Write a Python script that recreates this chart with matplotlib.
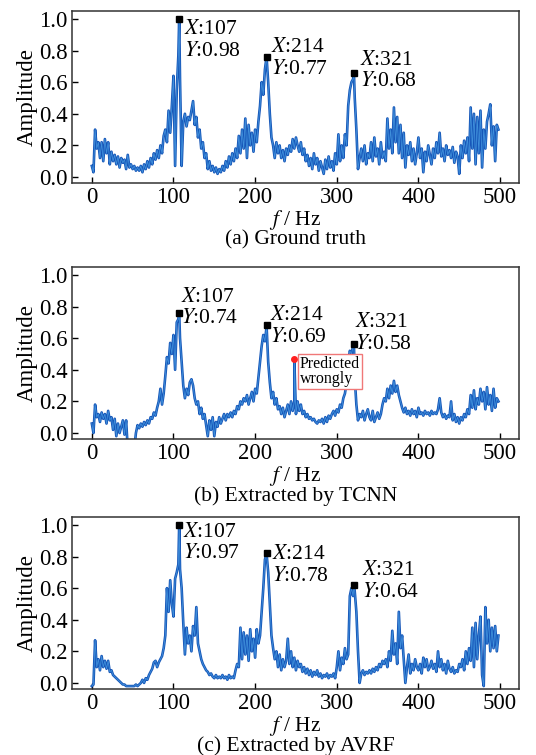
import matplotlib
matplotlib.use("Agg")
import matplotlib.pyplot as plt
import numpy as np

plt.rcParams["font.family"] = ["Liberation Serif", "DejaVu Serif"]
plt.rcParams["mathtext.fontset"] = "stix"
plt.rcParams["font.size"] = 16

# frekuensi tiap 2 Hz, puncak ditambahkan terpisah
freq = np.arange(0, 500, 2)

amp_a = [
    0.07, 0.03, 0.30, 0.18, 0.22, 0.12, 0.22, 0.10, 0.24, 0.15,
    0.22, 0.08, 0.16, 0.10, 0.14, 0.08, 0.13, 0.06, 0.12, 0.09,
    0.11, 0.05, 0.14, 0.06, 0.08, 0.05, 0.07, 0.04, 0.06, 0.04,
    0.07, 0.03, 0.08, 0.05, 0.10, 0.06, 0.12, 0.08, 0.15, 0.11,
    0.17, 0.12, 0.20, 0.15, 0.26, 0.30, 0.22, 0.42, 0.28, 0.45,
    0.64, 0.07, 0.55, 0.77, 0.62, 0.07, 0.35, 0.40, 0.32, 0.38,
    0.36, 0.42, 0.48, 0.33, 0.38, 0.25, 0.30, 0.18, 0.22, 0.12,
    0.15, 0.05, 0.10, 0.04, 0.07, 0.03, 0.06, 0.02, 0.05, 0.03,
    0.07, 0.04, 0.10, 0.06, 0.13, 0.08, 0.15, 0.10, 0.18, 0.12,
    0.26, 0.15, 0.30, 0.18, 0.37, 0.12, 0.33, 0.20, 0.28, 0.16,
    0.30, 0.22, 0.35, 0.45, 0.60, 0.52, 0.68, 0.76, 0.60, 0.40,
    0.25, 0.20, 0.12, 0.22, 0.15, 0.20, 0.12, 0.17, 0.10, 0.18,
    0.14, 0.20, 0.16, 0.24, 0.18, 0.25, 0.20, 0.16, 0.22, 0.14,
    0.18, 0.10, 0.14, 0.07, 0.12, 0.05, 0.15, 0.08, 0.12, 0.04,
    0.10, 0.06, 0.02, 0.11, 0.05, 0.13, 0.06, 0.10, 0.04, 0.15,
    0.08, 0.27, 0.10, 0.20, 0.12, 0.27, 0.20, 0.45, 0.55, 0.60,
    0.62, 0.50, 0.30, 0.05, 0.12, 0.18, 0.10, 0.20, 0.08, 0.15,
    0.12, 0.22, 0.10, 0.25, 0.13, 0.18, 0.08, 0.22, 0.12, 0.16,
    0.10, 0.37, 0.18, 0.30, 0.15, 0.44, 0.22, 0.38, 0.15, 0.33,
    0.12, 0.28, 0.06, 0.20, 0.14, 0.22, 0.10, 0.18, 0.08, 0.15,
    0.25, 0.12, 0.18, 0.03, 0.16, 0.10, 0.20, 0.14, 0.08, 0.18,
    0.12, 0.22, 0.15, 0.28, 0.13, 0.18, 0.10, 0.20, 0.14, 0.17,
    0.12, 0.19, 0.09, 0.16, 0.13, 0.02, 0.20, 0.12, 0.23, 0.15,
    0.25, 0.10, 0.44, 0.18, 0.40, 0.08, 0.38, 0.15, 0.42, 0.06,
    0.30, 0.18, 0.35, 0.40, 0.46, 0.20, 0.32, 0.10, 0.33, 0.30,
]

amp_b = [
    0.06, 0.00, 0.18, 0.10, 0.12, 0.07, 0.13, 0.09, 0.12, 0.06,
    0.14, 0.08, 0.10, 0.02, 0.09, -0.02, 0.06, 0.00, 0.04, 0.08,
    -0.01, 0.08, -0.10, -0.10, -0.10, -0.10, -0.10, 0.00, 0.05, 0.03,
    0.06, 0.04, 0.07, 0.05, 0.08, 0.06, 0.10, 0.09, 0.13, 0.11,
    0.16, 0.20, 0.28, 0.18, 0.25, 0.36, 0.48, 0.44, 0.57, 0.50,
    0.62, 0.40, 0.70, 0.72, 0.60, 0.45, 0.30, 0.22, 0.28, 0.24,
    0.32, 0.34, 0.30, 0.22, 0.18, 0.20, 0.12, 0.16, 0.09, 0.12,
    0.05, -0.02, 0.08, 0.02, 0.10, -0.02, 0.07, 0.04, 0.10, 0.06,
    0.09, 0.12, 0.08, 0.12, 0.10, 0.13, 0.10, 0.14, 0.12, 0.17,
    0.15, 0.20, 0.18, 0.22, 0.20, 0.24, 0.18, 0.22, 0.26, 0.20,
    0.28, 0.25, 0.35, 0.45, 0.55, 0.62, 0.58, 0.67, 0.45, 0.32,
    0.22, 0.26, 0.18, 0.22, 0.15, 0.17, 0.12, 0.16, 0.10, 0.14,
    0.18, 0.12, 0.20, 0.14, 0.20, 0.12, 0.20, 0.14, 0.18, 0.12,
    0.14, 0.10, 0.12, 0.09, 0.10, 0.08, 0.09, 0.07, 0.06, 0.08,
    0.07, 0.09, 0.06, 0.10, 0.07, 0.11, 0.09, 0.12, 0.14, 0.11,
    0.15, 0.13, 0.18, 0.16, 0.22, 0.25, 0.32, 0.45, 0.52, 0.50,
    0.55, 0.35, 0.18, 0.08, 0.12, 0.10, 0.14, 0.08, 0.12, 0.15,
    0.10, 0.08, 0.14, 0.07, 0.10, 0.13, 0.09, 0.12, 0.18, 0.22,
    0.20, 0.28, 0.22, 0.30, 0.25, 0.33, 0.26, 0.30, 0.24, 0.20,
    0.16, 0.13, 0.16, 0.12, 0.14, 0.11, 0.15, 0.12, 0.14, 0.10,
    0.16, 0.12, 0.13, 0.11, 0.14, 0.12, 0.13, 0.11, 0.14, 0.12,
    0.13, 0.12, 0.15, 0.22, 0.13, 0.10, 0.12, 0.09, 0.11, 0.10,
    0.20, 0.08, 0.12, 0.07, 0.10, 0.06, 0.10, 0.08, 0.12, 0.10,
    0.15, 0.12, 0.24, 0.16, 0.27, 0.15, 0.22, 0.18, 0.28, 0.20,
    0.26, 0.15, 0.29, 0.18, 0.24, 0.14, 0.28, 0.16, 0.22, 0.20,
]

amp_c = [
    -0.02, -0.01, 0.27, 0.10, 0.15, 0.08, 0.17, 0.10, 0.14, 0.09,
    0.14, 0.07, 0.08, 0.05, 0.04, 0.03, 0.02, 0.01, 0.00, -0.01,
    -0.01, -0.02, -0.02, -0.02, -0.02, -0.02, -0.02, -0.01, -0.02, -0.01,
    0.00, 0.02, 0.00, 0.03, 0.02, 0.05, 0.07, 0.09, 0.13, 0.14,
    0.10, 0.13, 0.15, 0.17, 0.22, 0.30, 0.60, 0.45, 0.65, 0.50,
    0.42, 0.66, 0.70, 0.75, 0.72, 0.60, 0.38, 0.18, 0.35, 0.25,
    0.30, 0.20, 0.36, 0.30, 0.48, 0.25, 0.20, 0.15, 0.12, 0.10,
    0.08, 0.07, 0.05, 0.06, 0.04, 0.03, 0.05, 0.03, 0.04, 0.03,
    0.05, 0.03, 0.04, 0.02, 0.05, 0.03, 0.04, 0.03, 0.08, 0.12,
    0.10, 0.35, 0.15, 0.32, 0.18, 0.30, 0.14, 0.34, 0.20, 0.28,
    0.16, 0.34, 0.25, 0.30, 0.45, 0.60, 0.78, 0.82, 0.70, 0.50,
    0.30, 0.22, 0.15, 0.20, 0.10, 0.18, 0.08, 0.15, 0.10, 0.14,
    0.28, 0.12, 0.20, 0.10, 0.16, 0.08, 0.14, 0.10, 0.12, 0.07,
    0.10, 0.06, 0.09, 0.05, 0.08, 0.04, 0.07, 0.05, 0.08, 0.04,
    0.06, 0.03, 0.05, 0.04, 0.06, 0.03, 0.05, 0.04, 0.06, 0.03,
    0.10, 0.20, 0.08, 0.16, 0.12, 0.22, 0.15, 0.18, 0.55, 0.60,
    0.55, 0.58, 0.45, 0.20, 0.00, 0.06, 0.08, 0.05, 0.07, 0.06,
    0.08, 0.06, 0.09, 0.07, 0.10, 0.08, 0.12, 0.10, 0.14, 0.12,
    0.15, 0.10, 0.20, 0.14, 0.33, 0.18, 0.25, 0.12, 0.45, 0.22,
    0.30, 0.15, 0.00, 0.10, 0.18, 0.06, 0.12, 0.08, 0.15, 0.10,
    0.08, 0.12, 0.06, 0.16, 0.10, 0.15, 0.08, 0.10, 0.14, 0.09,
    0.12, 0.07, 0.20, 0.10, 0.15, 0.08, 0.12, 0.06, 0.14, 0.09,
    0.07, 0.10, 0.06, 0.08, 0.07, 0.12, 0.10, 0.15, 0.08, 0.20,
    0.12, 0.22, 0.14, 0.35, 0.10, 0.38, 0.15, 0.30, 0.42, 0.05,
    -0.02, 0.48, 0.25, 0.40, 0.20, 0.35, 0.22, 0.36, 0.20, 0.30,
]

peak_x = [107, 214, 321]
peak_a = [1.00, 0.76, 0.66]
peak_b = [0.76, 0.68, 0.56]
peak_c = [1.00, 0.82, 0.62]
label_a = ["0.98", "0.77", "0.68"]
label_b = ["0.74", "0.69", "0.58"]
label_c = ["0.97", "0.78", "0.64"]

wrong_x = 248
wrong_y = 0.465

panels = [
    (amp_a, peak_a, label_a, "(a) Ground truth",
     [(113, 0.865), (220, 0.75), (329, 0.67)],
     [0.7576, 0.9854]),
    (amp_b, peak_b, label_b, "(b) Extracted by TCNN",
     [(109, 0.79), (218, 0.675), (322, 0.63)],
     [0.4185, 0.6464]),
    (amp_c, peak_c, label_c, "(c) Extracted by AVRF",
     [(112, 0.885), (221, 0.742), (331, 0.64)],
     [0.0875, 0.3152]),
]

fig = plt.figure(figsize=(5.36, 7.55), dpi=100)

for i, (amp, pk, lab, judul, pos, (y0, y1)) in enumerate(panels):
    ax = fig.add_axes([0.134, y0, 0.968 - 0.134, y1 - y0])
    x = np.concatenate([freq, peak_x])
    y = np.concatenate([amp, pk])
    if i == 1:
        x = np.append(x, wrong_x)
        y = np.append(y, wrong_y)
    urut = np.argsort(x, kind="stable")
    ax.plot(x[urut], y[urut], color="#1656b8", lw=1.9)
    ax.plot(x[urut], y[urut], color="#4a9ee4", lw=0.6, alpha=0.8)
    ax.plot(peak_x, pk, "s", color="black", ms=4)
    for (tx, ty), px, lb in zip(pos, peak_x, lab):
        ax.text(tx, ty, "$X$:%d\n$Y$:%s" % (px, lb), fontsize=15.5,
                va="center", ha="left", linespacing=1.2)
    if i == 1:
        ax.plot(wrong_x, wrong_y, "o", color="#ff2020", ms=4)
        ax.text(255, 0.39, "Predicted\nwrongly", fontsize=11.5,
                va="center", ha="left", linespacing=0.9,
                bbox=dict(boxstyle="square,pad=0.12", fc="white",
                          ec="#f07878", lw=1))
    ax.set_xlim(-24.5, 523)
    ax.set_ylim(-0.038, 1.05)
    ax.set_xticks([0, 100, 200, 300, 400, 500])
    ax.set_yticks([0.0, 0.2, 0.4, 0.6, 0.8, 1.0])
    ax.set_yticklabels(["0.0", "0.2", "0.4", "0.6", "0.8", "1.0"])
    ax.tick_params(direction="in", length=4, width=1, labelsize=16.5, pad=3)
    ax.set_ylabel("Amplitude", fontsize=16.5, labelpad=1)
    ax.set_xlabel("$f$ / Hz\n" + judul, fontsize=15.5, linespacing=0.88,
                  labelpad=0)
    for s in ax.spines.values():
        s.set_linewidth(1.1)
        s.set_color("#333333")

fig.savefig("out.png", dpi=100)
